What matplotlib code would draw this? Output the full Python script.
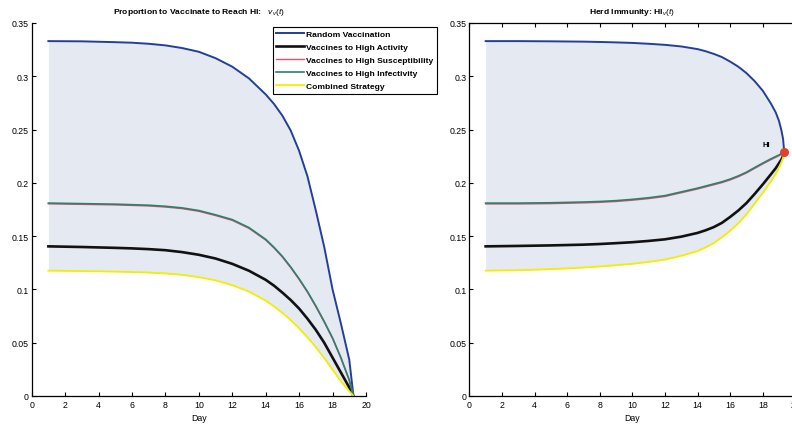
import numpy as np
import matplotlib
matplotlib.use("Agg")
import matplotlib.pyplot as plt

plt.rcParams['font.family'] = ['Liberation Sans', 'DejaVu Sans']
plt.rcParams['mathtext.fontset'] = 'custom'
plt.rcParams['mathtext.rm'] = 'Liberation Sans'
plt.rcParams['mathtext.it'] = 'Liberation Sans:italic'

# days sampled for the vaccination proportion curves
days_v = [1, 3, 5, 6, 7, 8, 9, 10, 11, 12, 13, 14, 14.5, 15, 15.5, 16, 16.5, 17, 17.5,
          18, 18.5, 19, 19.25]
v_random = [0.333, 0.3328, 0.332, 0.3315, 0.3305, 0.329, 0.3265, 0.323, 0.317, 0.309, 0.298,
            0.283, 0.274, 0.263, 0.249, 0.230, 0.206, 0.174, 0.140, 0.100, 0.068, 0.034, 0.0]
v_activity = [0.1404, 0.1398, 0.139, 0.1385, 0.1378, 0.1368, 0.135, 0.1325, 0.129, 0.124,
              0.1175, 0.109, 0.1035, 0.097, 0.090, 0.082, 0.0725, 0.062, 0.050, 0.036, 0.022,
              0.008, 0.0]
v_suscept = [0.1803, 0.1798, 0.1793, 0.1788, 0.1783, 0.1773, 0.1758, 0.1733, 0.1693, 0.1648,
             0.1573, 0.1463, 0.1388, 0.1303, 0.1203, 0.1093, 0.0973, 0.0838, 0.0693, 0.0538,
             0.0355, 0.0147, 0.0]
v_infect = [0.181, 0.1805, 0.180, 0.1795, 0.179, 0.178, 0.1765, 0.174, 0.170, 0.1655, 0.158,
            0.147, 0.1395, 0.131, 0.121, 0.110, 0.098, 0.0845, 0.070, 0.0545, 0.036, 0.015, 0.0]
v_combined = [0.1176, 0.1172, 0.1167, 0.1163, 0.1158, 0.115, 0.1137, 0.1115, 0.1085, 0.104,
              0.098, 0.0895, 0.084, 0.078, 0.0712, 0.0635, 0.055, 0.0458, 0.0357, 0.0247,
              0.0138, 0.0045, 0.0]

# days sampled for the herd immunity curves
days_hi = [1, 3, 5, 7, 8, 9, 10, 11, 12, 13, 14, 14.5, 15, 15.5, 16, 16.5, 17, 17.5, 18,
           18.5, 18.8, 19, 19.15, 19.25, 19.32]
hi_random = [0.333, 0.333, 0.3328, 0.3325, 0.3322, 0.3318, 0.3313, 0.3305, 0.3295, 0.328,
             0.3255, 0.3235, 0.321, 0.318, 0.3138, 0.309, 0.303, 0.2955, 0.2865, 0.2745,
             0.266, 0.258, 0.249, 0.241, 0.229]
hi_activity = [0.1404, 0.1408, 0.1413, 0.142, 0.1426, 0.1434, 0.1443, 0.1455, 0.147, 0.1495,
               0.153, 0.1555, 0.1585, 0.1625, 0.168, 0.174, 0.181, 0.1895, 0.1985, 0.208,
               0.2138, 0.2185, 0.222, 0.225, 0.229]
hi_suscept = [0.1802, 0.1802, 0.1805, 0.1812, 0.1817, 0.1825, 0.1837, 0.1852, 0.1872, 0.1907,
              0.1942, 0.1962, 0.1982, 0.2002, 0.2027, 0.2057, 0.2092, 0.2135, 0.2177, 0.2217,
              0.2240, 0.2255, 0.2268, 0.2278, 0.229]
hi_infect = [0.181, 0.181, 0.1813, 0.182, 0.1825, 0.1833, 0.1845, 0.186, 0.188, 0.1915, 0.195,
             0.197, 0.199, 0.201, 0.2035, 0.2065, 0.210, 0.2143, 0.2185, 0.2225, 0.2247,
             0.2262, 0.2274, 0.2283, 0.229]
hi_combined = [0.1176, 0.118, 0.119, 0.1205, 0.1215, 0.1227, 0.124, 0.1258, 0.128, 0.1315,
               0.136, 0.1395, 0.1435, 0.149, 0.155, 0.162, 0.1705, 0.1805, 0.1905, 0.2015,
               0.2085, 0.2145, 0.2195, 0.2235, 0.229]

labels = ['Random Vaccination', 'Vaccines to High Activity', 'Vaccines to High Susceptibility',
          'Vaccines to High Infectivity', 'Combined Strategy']
colors = ['#233f96', '#111111', '#e0506e', '#2f7f6e', '#f2ee00']
widths = [1.4, 1.9, 1.0, 1.2, 1.3]
fill_col = '#e4e9f2'

fig = plt.figure(figsize=(7.92, 4.27), dpi=100)
ax1 = fig.add_axes([0.0400, 0.0703, 0.4221, 0.8735])
ax2 = fig.add_axes([0.5926, 0.0703, 0.4116, 0.8735])

def draw(ax, x, series):
    ax.fill_between(x, series[-1], series[0], color=fill_col, lw=0)
    lines = []
    for y, c, w, lab in zip(series, colors, widths, labels):
        ln, = ax.plot(x, y, color=c, lw=w, label=lab)
        lines.append(ln)
    ax.set_xlim(0, 20)
    ax.set_ylim(0, 0.35)
    ax.set_xticks(np.arange(0, 21, 2))
    ax.set_yticks([0, 0.05, 0.1, 0.15, 0.2, 0.25, 0.3, 0.35])
    ax.set_yticklabels(['0', '0.05', '0.1', '0.15', '0.2', '0.25', '0.3', '0.35'])
    ax.tick_params(direction='in', length=3, width=0.8, labelsize=6.3, pad=2)
    ax.tick_params(axis='x', pad=3)
    ax.set_xlabel('Day', fontsize=6.3, labelpad=3)
    for s in ax.spines.values():
        s.set_linewidth(0.9)
    return lines

handles = draw(ax1, days_v, [v_random, v_activity, v_suscept, v_infect, v_combined])
ax1.spines['top'].set_visible(False)
ax1.spines['right'].set_visible(False)
ax1.set_title('Proportion to Vaccinate to Reach HI:   $v_v(t)$', fontsize=6.1,
              fontweight='bold', pad=7)

draw(ax2, days_hi, [hi_random, hi_activity, hi_suscept, hi_infect, hi_combined])
ax2.tick_params(top=True)
ax2.set_title('Herd Immunity: HI$_v(t)$', fontsize=6.1, fontweight='bold', pad=7)
ax2.plot(days_hi[-1], hi_random[-1], 'o', color='#e0402e', ms=5.5, zorder=5)
ax2.annotate('HI', xy=(days_hi[-1], hi_random[-1]), xytext=(-13, 3),
             textcoords='offset points', fontsize=5.5, fontweight='bold',
             ha='center', va='bottom')

leg = fig.legend(handles=handles, loc='upper left', bbox_to_anchor=(0.3447, 0.9344),
                 bbox_transform=fig.transFigure, borderaxespad=0,
                 handlelength=3.2, handletextpad=0.35, labelspacing=0.6,
                 borderpad=0.4, fancybox=False, framealpha=1,
                 prop={'weight': 'bold', 'size': 6.1})
leg.get_frame().set_edgecolor('black')
leg.get_frame().set_linewidth(0.8)

fig.savefig('out.png', dpi=100)
